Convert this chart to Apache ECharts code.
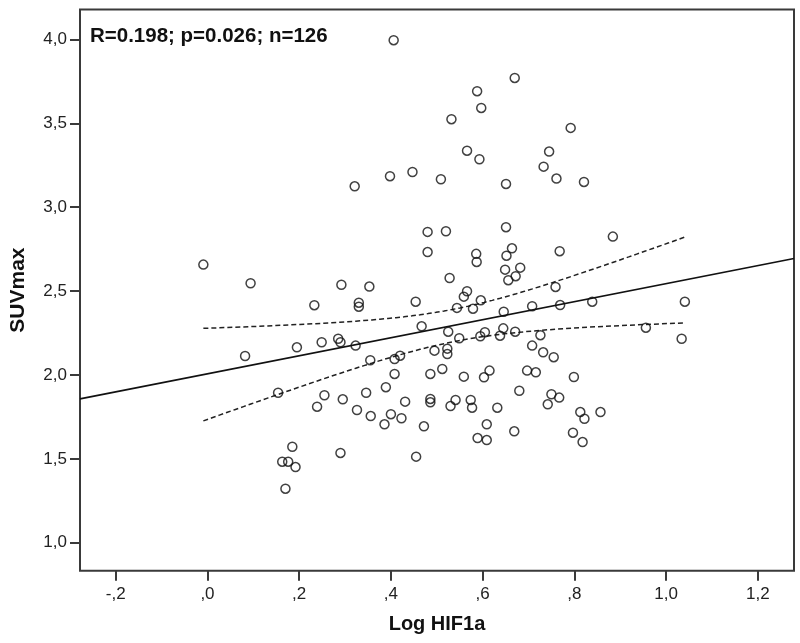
<!DOCTYPE html>
<html>
<head>
<meta charset="utf-8">
<script src="https://cdn.jsdelivr.net/npm/echarts@6/dist/echarts.min.js"></script>
<style>
html,body{margin:0;padding:0;background:#fff;}
#chart{width:800px;height:643px;}
</style>
</head>
<body>
<div id="chart"></div>
<script>
// Log HIF1a values (x)
const logHIF1a = [
  0.406,0.670,0.588,0.597,0.532,0.792,0.566,0.745,0.593,0.733,
  0.398,0.447,0.509,0.761,0.321,0.651,0.821,0.480,0.520,0.651,
  0.884,
  -0.009,0.094,0.292,0.353,0.233,0.330,0.330,0.195,0.249,0.285,
  0.290,0.323,0.082,0.355,0.408,0.420,0.408,0.389,0.346,0.154,
  0.255,0.295,0.239,0.326,0.356,0.400,0.386,0.423,0.185,0.290,
  0.163,0.176,0.192,0.170,
  0.480,0.586,0.587,0.664,0.652,0.768,0.649,0.682,0.672,0.656,
  0.528,0.759,0.566,0.559,0.454,0.596,0.544,0.579,0.708,0.769,
  0.839,0.646,0.467,0.525,0.549,0.595,0.605,0.638,0.645,0.671,
  0.726,0.956,0.495,0.523,0.523,0.708,0.732,0.755,0.486,0.512,
  0.559,0.603,0.615,0.697,0.716,0.799,0.431,0.486,0.486,0.541,
  0.530,0.574,0.577,0.632,0.680,0.750,0.767,0.742,0.813,0.822,
  0.857,0.472,0.609,0.589,0.609,0.669,0.797,0.818,0.455,
  1.041,1.034
];
// SUVmax values (y)
const suvMax = [
  3.996,3.771,3.692,3.592,3.525,3.473,3.337,3.332,3.286,3.242,
  3.185,3.210,3.167,3.171,3.125,3.139,3.151,2.853,2.857,2.881,
  2.825,
  2.658,2.547,2.538,2.527,2.416,2.431,2.407,2.165,2.195,2.216,
  2.195,2.175,2.113,2.088,2.095,2.115,2.006,1.927,1.894,1.894,
  1.879,1.855,1.811,1.791,1.755,1.766,1.706,1.742,1.572,1.535,
  1.483,1.483,1.451,1.322,
  2.733,2.722,2.674,2.755,2.711,2.738,2.628,2.640,2.589,2.565,
  2.578,2.525,2.499,2.467,2.437,2.445,2.400,2.395,2.410,2.417,
  2.437,2.377,2.290,2.258,2.219,2.231,2.255,2.234,2.278,2.258,
  2.237,2.282,2.145,2.157,2.125,2.175,2.135,2.106,2.006,2.036,
  1.990,1.986,2.026,2.026,2.016,1.988,1.841,1.857,1.837,1.851,
  1.815,1.851,1.805,1.805,1.906,1.885,1.865,1.825,1.779,1.739,
  1.779,1.694,1.706,1.624,1.612,1.664,1.656,1.600,1.513,
  2.437,2.216
];
const xTickValues = [-0.2, 0, 0.2, 0.4, 0.6, 0.8, 1.0, 1.2];
const xTickLabels = ['-,2', ',0', ',2', ',4', ',6', ',8', '1,0', '1,2'];
const yTickValues = [1.0, 1.5, 2.0, 2.5, 3.0, 3.5, 4.0];
const yTickLabels = ['1,0', '1,5', '2,0', '2,5', '3,0', '3,5', '4,0'];
const xRange = [-0.278, 1.279];
const yRange = [0.833, 4.179];
const annotation = 'R=0.198; p=0.026; n=126';
const xTitle = 'Log HIF1a';
const yTitle = 'SUVmax';
const tCrit = 1.979; // t(0.975, n-2)

// Linear fit (least squares) and 95% CI of the mean
const n = logHIF1a.length;
const pts = logHIF1a.map((x, i) => [x, suvMax[i]]);
const mx = logHIF1a.reduce((a, b) => a + b, 0) / n;
const my = suvMax.reduce((a, b) => a + b, 0) / n;
let sxx = 0, sxy = 0;
for (let i = 0; i < n; i++) { sxx += (logHIF1a[i] - mx) ** 2; sxy += (logHIF1a[i] - mx) * (suvMax[i] - my); }
const slope = sxy / sxx;
const intercept = my - slope * mx;
let sse = 0;
for (let i = 0; i < n; i++) { sse += (suvMax[i] - intercept - slope * logHIF1a[i]) ** 2; }
const se = Math.sqrt(sse / (n - 2));
const fitLine = [[xRange[0], intercept + slope * xRange[0]], [xRange[1], intercept + slope * xRange[1]]];
const dMin = Math.min(...logHIF1a), dMax = Math.max(...logHIF1a);
const ciUpper = [], ciLower = [];
const steps = 60;
for (let k = 0; k <= steps; k++) {
  const x = dMin + (dMax - dMin) * k / steps;
  const yh = intercept + slope * x;
  const h = tCrit * se * Math.sqrt(1 / n + (x - mx) ** 2 / sxx);
  ciUpper.push([x, yh + h]);
  ciLower.push([x, yh - h]);
}

const chart = echarts.init(document.getElementById('chart'), null, { renderer: 'canvas' });
const lab = (vals, labels) => (v) => { const i = vals.findIndex(t => Math.abs(t - v) < 1e-6); return i >= 0 ? labels[i] : ''; };
chart.setOption({
  animation: false,
  backgroundColor: '#ffffff',
  grid: { left: 77, right: 6, top: 9.5, bottom: 72.3, show: true, borderColor: '#3a3a3a', borderWidth: 2, backgroundColor: 'transparent' },
  xAxis: {
    type: 'value', min: xRange[0], max: xRange[1],
    name: xTitle, nameLocation: 'middle', nameGap: 44,
    nameTextStyle: { fontFamily: 'Liberation Sans, Arial, sans-serif', fontWeight: 'bold', fontSize: 20, color: '#111' },
    axisLine: { show: false, onZero: false },
    axisTick: { show: true, inside: false, length: 10, customValues: xTickValues, lineStyle: { color: '#3a3a3a', width: 2 } },
    axisLabel: { customValues: xTickValues, formatter: lab(xTickValues, xTickLabels), margin: 15, fontFamily: 'Liberation Sans, Arial, sans-serif', fontSize: 17, color: '#222' },
    splitLine: { show: false }
  },
  yAxis: {
    type: 'value', min: yRange[0], max: yRange[1],
    name: yTitle, nameLocation: 'middle', nameGap: 51, nameRotate: 90,
    nameTextStyle: { fontFamily: 'Liberation Sans, Arial, sans-serif', fontWeight: 'bold', fontSize: 21, color: '#111' },
    axisLine: { show: false, onZero: false },
    axisTick: { show: true, inside: false, length: 10, customValues: yTickValues, lineStyle: { color: '#3a3a3a', width: 2 } },
    axisLabel: { customValues: yTickValues, formatter: lab(yTickValues, yTickLabels), margin: 13, fontFamily: 'Liberation Sans, Arial, sans-serif', fontSize: 17, color: '#222' },
    splitLine: { show: false }
  },
  graphic: [{
    type: 'text', left: 90, top: 26,
    style: { text: annotation, fill: '#111', font: 'bold 20.5px "Liberation Sans", Arial, sans-serif' }
  }],
  series: [
    { type: 'line', data: fitLine, symbol: 'none', lineStyle: { color: '#111', width: 1.6 }, z: 2 },
    { type: 'line', data: ciUpper, symbol: 'none', smooth: false, lineStyle: { color: '#222', width: 1.5, type: [5, 3] }, z: 2 },
    { type: 'line', data: ciLower, symbol: 'none', smooth: false, lineStyle: { color: '#222', width: 1.5, type: [5, 3] }, z: 2 },
    { type: 'scatter', data: pts, symbol: 'circle', symbolSize: 9,
      itemStyle: { color: 'rgba(0,0,0,0)', borderColor: '#111', borderWidth: 1.5 }, z: 3 }
  ]
});
</script>
</body>
</html>
